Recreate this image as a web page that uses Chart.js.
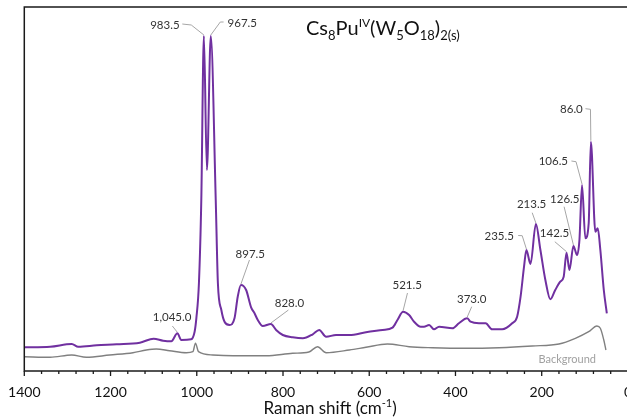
<!DOCTYPE html>
<html>
<head>
<meta charset="utf-8">
<script src="https://cdn.jsdelivr.net/npm/chart.js@4.4.1/dist/chart.umd.min.js"></script>
<style>
  html, body { margin: 0; padding: 0; background: #fff; overflow: hidden; }
  #wrap { width: 640px; height: 418px; }
</style>
</head>
<body>
<div id="wrap"><canvas id="raman" width="640" height="418"></canvas></div>
<script>
// Raman spectrum of the sample (cm-1, arbitrary intensity)
const sampleShift = [1400, 1340, 1290, 1275, 1232, 1186, 1132, 1100, 1078, 1059, 1045, 1036, 1013, 1005, 1001,
  995, 989.5, 983.5, 976.5, 967.5, 956, 951, 943, 935.6, 924, 912.5, 905, 897.5, 885.5, 874, 866, 858.5, 847,
  828, 816, 800.5, 777.5, 754, 731, 716, 700, 677, 646, 607.6, 569, 546, 534.6, 521.5, 507.5, 496, 480.5, 473,
  461, 450, 438, 407, 392, 373, 365, 345.5, 330, 315, 291.6, 268.5, 257, 249, 241, 235.5, 226, 213.5, 203,
  191.5, 180, 168.6, 157, 149, 142.5, 135.6, 126.5, 118, 112.5, 106.5, 98.8, 91, 86, 75.6, 70, 64, 56, 49];
const sampleCounts = [23.7, 24.3, 27, 24.3, 25.7, 26.7, 28.3, 32.3, 30.3, 29.7, 37.7, 31, 31.7, 39.3, 52.7,
  87.7, 171, 335, 201, 335, 171, 87.7, 61, 49.3, 46, 52.7, 74.3, 86, 81, 63.7, 57.7, 51, 45,
  47, 41, 36, 33.7, 32.7, 36.7, 41, 34.3, 36, 36, 38.7, 41, 43.3, 51, 59.3, 56, 49.3, 44.3, 44.3,
  46, 41.7, 44.3, 42.7, 47.7, 52.7, 49.3, 47.7, 47.7, 41.7, 41.7, 47.7, 54.3, 74.3, 104.3, 121, 107, 147, 121,
  91, 71.7, 81, 89.3, 94.3, 118.3, 101, 125, 116, 131, 186, 132.7, 147.7, 229.3, 139.3, 142.7, 121, 81, 57.7];

// background spectrum
const bgShift = [1400, 1340, 1290, 1256, 1202, 1148, 1117, 1094, 1063, 1024, 1009, 1003, 996, 963, 916, 839,
  777.5, 740, 720, 700, 646, 607.6, 558, 507.5, 454, 376, 299, 222, 160, 122, 91, 72, 64, 56, 51];
const bgCounts = [14.3, 13.7, 16, 13.7, 16, 18.3, 21, 22, 20.3, 18.3, 19.3, 27.7, 19.3, 16, 15.3, 15.3,
  17.7, 19, 24.3, 18.3, 21, 23.7, 27, 24.3, 23.3, 22.7, 23.3, 25, 27, 32.7, 39.3, 45, 42.7, 31, 21];

// labelled peaks
const peakShift = [1045, 983.5, 967.5, 897.5, 828, 521.5, 373, 235.5, 213.5, 142.5, 126.5, 106.5, 86];
const peakText = ["1,045.0", "983.5", "967.5", "897.5", "828.0", "521.5", "373.0", "235.5", "213.5",
  "142.5", "126.5", "106.5", "86.0"];

const majorTicks = [1400, 1200, 1000, 800, 600, 400, 200, 0];

// label offsets from the peak, in px: text anchor, alignment, leader bend points
const peakLabelLayout = [
  { t: [-5.3, -16.3], a: "center", l: [[-5, -7.3]] },
  { t: [-24.3, -11], a: "right", l: [[-21.6, -12], [-12.6, -11]] },
  { t: [16.8, -13], a: "left", l: [[12.8, -14], [9.5, -14]] },
  { t: [9.3, -31], a: "center", l: [[8.5, -25]] },
  { t: [18.5, -20.7], a: "center", l: [[17.5, -14]] },
  { t: [4.1, -26.7], a: "center", l: [[4.4, -18.7]] },
  { t: [4.6, -19.3], a: "center", l: [[4.6, -11.6]] },
  { t: [-12.5, -13.3], a: "right", l: [[-8.2, -14.5], [-4.2, -14.3]] },
  { t: [-4.3, -20], a: "center", l: [[-3.7, -11.3]] },
  { t: [-12, -19.4], a: "center", l: [[-11.7, -11]] },
  { t: [-8.6, -46.7], a: "center", l: [[-9.3, -39.3]] },
  { t: [-14, -23.3], a: "right", l: [[-10.6, -24], [-6, -23.3]] },
  { t: [-8.1, -32.7], a: "right", l: [[-5.4, -33], [-0.4, -32.4]] }
];

const FONT = "Lato, 'Open Sans', sans-serif";

function toPoints(xs, ys) {
  return xs.map((x, i) => ({ x, y: ys[i] }));
}

function drawRich(ctx, parts, x, y) {
  // parts: [text, size, baseline shift]
  let cx = x;
  parts.forEach(([txt, size, shift]) => {
    ctx.font = `${size}px ${FONT}`;
    ctx.fillText(txt, cx, y + shift);
    cx += ctx.measureText(txt).width;
  });
  return cx - x;
}

function richWidth(ctx, parts) {
  let w = 0;
  parts.forEach(([txt, size]) => {
    ctx.font = `${size}px ${FONT}`;
    w += ctx.measureText(txt).width;
  });
  return w;
}

const framePlugin = {
  id: "frame",
  afterDraw(chart) {
    const { ctx, chartArea: a, scales } = chart;
    ctx.save();
    ctx.strokeStyle = "#1a1a1a";
    ctx.lineWidth = 1.5;
    ctx.strokeRect(a.left, a.top, a.right - a.left, a.bottom - a.top);

    // tick marks: long at labelled values, short in between
    ctx.lineWidth = 1.3;
    for (let v = 0; v <= 1400; v += 40) {
      const px = scales.x.getPixelForValue(v);
      const len = majorTicks.includes(v) ? 5 : 3;
      ctx.beginPath();
      ctx.moveTo(px, a.bottom);
      ctx.lineTo(px, a.bottom + len);
      ctx.stroke();
    }

    // axis title with superscript
    const xt = [["Raman shift (cm", 17, 0], ["-1", 11, -7], [")", 17, 0]];
    ctx.fillStyle = "#111";
    ctx.textBaseline = "alphabetic";
    ctx.textAlign = "left";
    const w = richWidth(ctx, xt);
    drawRich(ctx, xt, (a.left + a.right) / 2 + 4 - w / 2, 414);

    // compound name
    const name = [["Cs", 20, 0], ["8", 13, 5], ["Pu", 20, 0], ["IV", 12, -8], ["(W", 20, 0], ["5", 13, 5],
      ["O", 20, 0], ["18", 13, 5], [")", 20, 0], ["2(s)", 13, 5]];
    drawRich(ctx, name, 306, 35);

    // background label
    ctx.font = `11px ${FONT}`;
    ctx.fillStyle = "#a0a0a0";
    ctx.textBaseline = "middle";
    ctx.fillText("Background", 538.5, 359.5);
    ctx.restore();
  }
};

const peakLabelPlugin = {
  id: "peakLabels",
  afterDatasetsDraw(chart) {
    const { ctx } = chart;
    const pts = chart.getDatasetMeta(1).data;
    ctx.save();
    ctx.font = `11.5px ${FONT}`;
    ctx.textBaseline = "middle";
    peakShift.forEach((s, i) => {
      const idx = sampleShift.indexOf(s);
      const p = pts[idx];
      const lay = peakLabelLayout[i];
      ctx.strokeStyle = "#a6a6a6";
      ctx.lineWidth = 1;
      ctx.beginPath();
      lay.l.forEach(([dx, dy], k) => {
        if (k === 0) ctx.moveTo(p.x + dx, p.y + dy);
        else ctx.lineTo(p.x + dx, p.y + dy);
      });
      ctx.lineTo(p.x, p.y - 1);
      ctx.stroke();
      ctx.fillStyle = "#333";
      ctx.textAlign = lay.a;
      ctx.fillText(peakText[i], p.x + lay.t[0], p.y + lay.t[1]);
    });
    ctx.restore();
  }
};

new Chart(document.getElementById("raman"), {
  type: "line",
  data: {
    datasets: [
      {
        label: "Background",
        data: toPoints(bgShift, bgCounts),
        borderColor: "#808080",
        borderWidth: 1.4,
        pointRadius: 0,
        cubicInterpolationMode: "monotone"
      },
      {
        label: "Cs8Pu(W5O18)2",
        data: toPoints(sampleShift, sampleCounts),
        borderColor: "#7030a0",
        borderWidth: 2,
        pointRadius: 0,
        cubicInterpolationMode: "monotone"
      }
    ]
  },
  options: {
    responsive: false,
    animation: false,
    layout: { padding: { left: 24.3, right: 10.7, top: 7, bottom: 0 } },
    plugins: {
      legend: { display: false },
      tooltip: { enabled: false }
    },
    scales: {
      x: {
        type: "linear",
        reverse: true,
        min: 0,
        max: 1400,
        grid: { display: false, drawTicks: true, tickLength: 5 },
        border: { display: false },
        ticks: {
          stepSize: 40,
          autoSkip: false,
          maxRotation: 0,
          padding: 8,
          color: "#111",
          font: { family: FONT, size: 14 },
          callback: (v) => (majorTicks.includes(v) ? String(v) : "")
        },
        afterFit: (scale) => { scale.height = 47; }
      },
      y: {
        display: false,
        min: 0,
        max: 364
      }
    }
  },
  plugins: [framePlugin, peakLabelPlugin]
});
</script>
</body>
</html>
